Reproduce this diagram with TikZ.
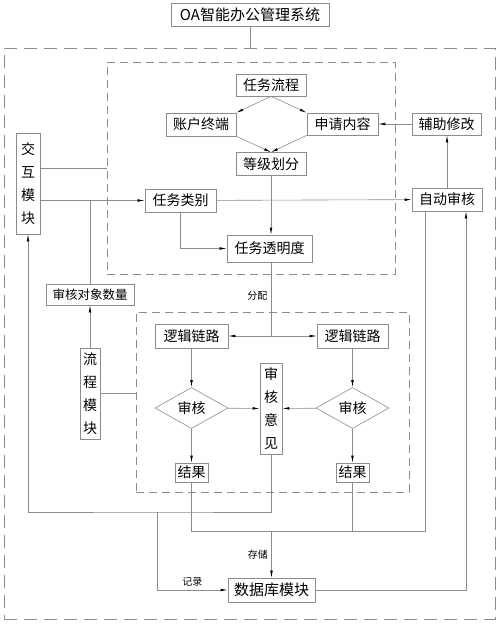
\documentclass[tikz,border=0pt]{standalone}
\usepackage{fontspec}
\setmainfont{Noto Sans CJK SC}
\usetikzlibrary{arrows.meta, shapes.geometric}

\begin{document}
\begin{tikzpicture}[x=1pt,y=-1pt,>={Latex[length=7pt,width=2.6pt,color=black]},
      link/.style={draw=black!45,line width=0.6pt},
      box/.style={draw=black!45,line width=0.6pt,inner sep=0pt,minimum height=23pt,
                  font=\fontsize{14}{16}\selectfont},
      vbox/.style={box,align=center,font=\fontsize{14}{23}\selectfont},
      dia/.style={box,diamond,aspect=1.8,minimum width=73pt,minimum height=41pt},
      dashbox/.style={draw=black!45,line width=0.6pt,dash pattern=on 8pt off 5pt},
      lbl/.style={font=\fontsize{10}{12}\selectfont}]
  \useasboundingbox (0,0) rectangle (500,625);
  % frames
  \node[box,minimum width=158pt,font=\fontsize{15}{17}\selectfont] (title) at (250,15) {OA智能办公管理系统};
  \node[dashbox,dash pattern=on 13pt off 7pt,minimum width=491pt,minimum height=571pt] (outer) at (249.5,333.5) {};
  \node[dashbox,minimum width=288pt,minimum height=212pt] (top) at (251,168) {};
  \node[dashbox,minimum width=273pt,minimum height=180pt] (bottom) at (272.5,402) {};
  % upper part
  \node[box,minimum width=70pt,minimum height=22pt] (flow)   at (271,85)    {任务流程};
  \node[box,minimum width=70pt] (acct)   at (201,124.5) {账户终端};
  \node[box,minimum width=71pt,minimum height=22pt] (apply)  at (342.5,124) {申请内容};
  \node[box,minimum width=69pt,minimum height=22pt] (assist) at (446.5,124) {辅助修改};
  \node[box,minimum width=70pt] (grade)  at (271,164)   {等级划分};
  \node[vbox,minimum width=24pt,minimum height=101pt] (inter) at (28,183.5) {交\\互\\模\\块};
  \node[box,minimum width=71pt] (cat)    at (180.5,200.5) {任务类别};
  \node[box,minimum width=70pt] (auto)   at (447,199.5) {自动审核};
  \node[box,minimum width=85pt,minimum height=27pt] (trans) at (269.5,248.5) {任务透明度};
  \node[box,minimum width=88pt,minimum height=21pt,font=\fontsize{12.5}{14}\selectfont] (count) at (90,294.5) {审核对象数量};
  % lower part
  \node[box,minimum width=73pt,minimum height=24pt] (logicL) at (191.5,336) {逻辑链路};
  \node[box,minimum width=71pt,minimum height=24pt] (logicR) at (352.5,336) {逻辑链路};
  \node[vbox,minimum width=20pt,minimum height=91pt] (proc) at (90,393.5) {流\\程\\模\\块};
  \node[dia] (checkL) at (191.5,408) {审核};
  \node[dia] (checkR) at (352.5,408) {审核};
  \node[vbox,minimum width=22pt,minimum height=91pt] (opin) at (271,408.5) {审\\核\\意\\见};
  \node[box,minimum width=33pt,minimum height=19pt] (resL) at (191.5,472.5) {结果};
  \node[box,minimum width=33pt,minimum height=19pt] (resR) at (352.5,472.5) {结果};
  \node[box,minimum width=87pt,minimum height=24pt,font=\fontsize{15}{17}\selectfont] (db) at (271.5,590) {数据库模块};

  \draw[link] (title) -- (title |- outer.north);
  \draw[link,->] (flow.south) -- (acct.north east);
  \draw[link,->] (flow.south) -- (apply.north west);
  \draw[link,->] (acct.south east) -- (grade.north);
  \draw[link,->] (apply.south west) -- (grade.north);
  \draw[link,->] (assist) -- (apply);
  \draw[link,->] (auto) -- (auto |- assist.south);
  \draw[link,->] (inter.east |- cat) -- (cat.west);
  \draw[link] ([yshift=15.5pt]inter.east) coordinate (ia) -- (ia -| top.west);
  \draw[link,->] (cat) -- (auto);
  \draw[link,->] (grade) -- (grade |- trans.north);
  \draw[link,->] (cat.south) |- (trans.west);
  \draw[link] (count.north) -- (count.north |- cat);
  \draw[link,->] (proc) -- (count);
  \draw[link] (proc.east) -- (proc.east -| bottom.west);
  % distribution
  \coordinate (split) at (grade |- logicL);
  \draw[link] (trans.south -| split) -- (split) node[lbl,pos=0.45,left] {分配};
  \draw[link,->] (split) -- (logicL);
  \draw[link,->] (split) -- (logicR);
  \draw[link,->] (logicL) -- (checkL);
  \draw[link,->] (checkL) -- (resL);
  \draw[link,->] (logicR) -- (checkR);
  \draw[link,->] (checkR) -- (resR);
  \draw[link,->] (checkL) -- (opin);
  \draw[link,->] (checkR) -- (opin);
  % storage
  \coordinate (rec) at (157,512);
  \coordinate (store) at (271.5,531);
  \coordinate (aw) at ([xshift=-22pt]auto.south);
  \coordinate (ae) at ([xshift=19pt]auto.south);
  \draw[link,->] (opin.south) |- (rec) -| (inter.south);
  \draw[link,->] (rec) |- (db.west) node[lbl,pos=0.75,above] {记录};
  \draw[link] (resL.south) |- (aw |- store) -- (aw);
  \draw[link] (resR.south) -- (resR.south |- store);
  \draw[link,->] (store) -- (db) node[lbl,midway,left] {存储};
  \draw[link,->] (db.east) -| (ae);
\end{tikzpicture}
\end{document}
